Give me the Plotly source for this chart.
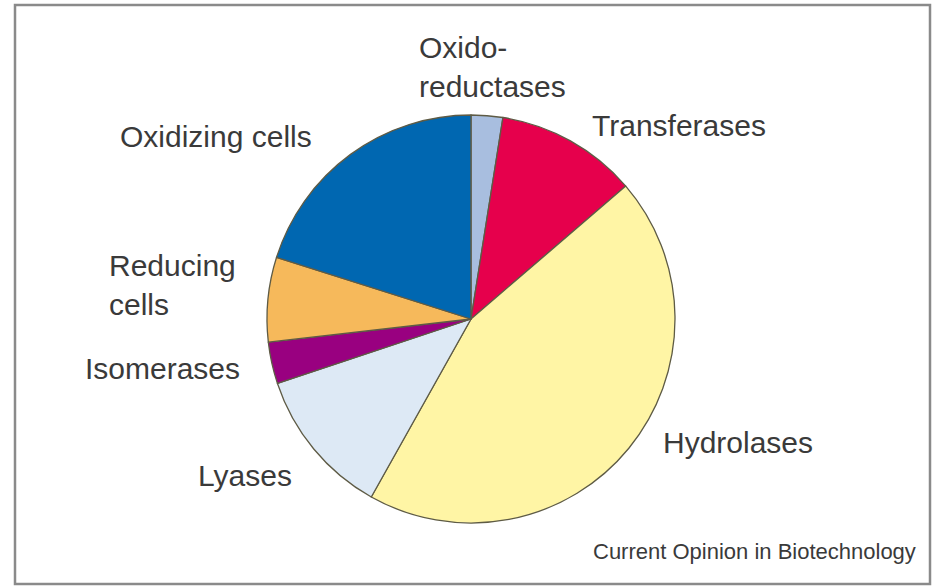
import plotly.graph_objects as go

W, H = 936, 587

categories = ["Oxido-reductases", "Transferases", "Hydrolases", "Lyases",
              "Isomerases", "Reducing cells", "Oxidizing cells"]
values = [2.5, 11.2, 44.4, 11.75, 3.3, 6.7, 20.1]
colors = ["#a8bedf", "#e6004c", "#fff5a5", "#dde9f5", "#990080", "#f6b95b", "#0067b1"]

label_texts = ["Oxido-<br>reductases", "Transferases", "Hydrolases", "Lyases",
               "Isomerases", "Reducing<br>cells", "Oxidizing cells"]
# label anchor positions (pixels) and alignment
label_pos = [(417, 67, "left"), (590, 126, "left"), (661, 442, "left"),
             (245, 475, "center"), (162, 368, "center"), (107, 285, "left"),
             (216, 137, "center")]
source = "Current Opinion in Biotechnology"

cx, cy, r = 471, 319, 204

fig = go.Figure(go.Pie(
    labels=categories, values=values, sort=False, direction="clockwise",
    rotation=0, textinfo="none", hoverinfo="label+percent",
    marker=dict(colors=colors, line=dict(color="#5e5b45", width=1.3)),
    domain=dict(x=[(cx - r) / W, (cx + r) / W],
                y=[(H - cy - r) / H, (H - cy + r) / H]),
    showlegend=False,
))

font = dict(family="Liberation Sans, Arial, sans-serif", size=30, color="#3a3a3a")
annotations = []
for txt, (px, py, al) in zip(label_texts, label_pos):
    annotations.append(dict(
        x=px / W, y=1 - py / H, xref="paper", yref="paper", text=txt,
        showarrow=False, xanchor=al, yanchor="middle", align="left", font=font))
annotations.append(dict(
    x=918 / W, y=1 - 551 / H, xref="paper", yref="paper", text=source,
    showarrow=False, xanchor="right", yanchor="middle",
    font=dict(family="Liberation Sans, Arial, sans-serif", size=22, color="#3a3a3a")))

fig.update_layout(
    width=W, height=H, margin=dict(l=0, r=0, t=0, b=0),
    paper_bgcolor="white", plot_bgcolor="white",
    annotations=annotations,
    shapes=[dict(type="rect", xref="paper", yref="paper",
                 x0=15 / W, x1=930 / W, y0=1 - 584 / H, y1=1 - 5 / H,
                 line=dict(color="#8a8a8a", width=2.5))],
)
fig.write_html("out.html")
